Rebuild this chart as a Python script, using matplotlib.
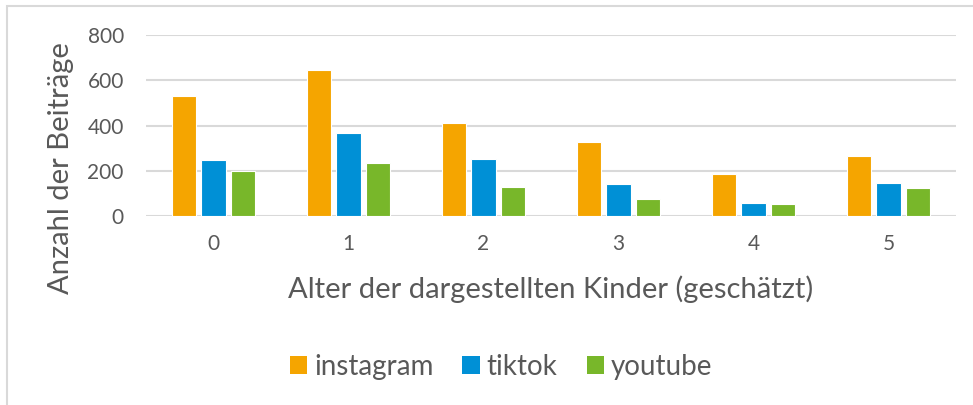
import numpy as np
import matplotlib.pyplot as plt
from matplotlib.patches import Patch, Rectangle

# --- Daten ---
ages = ["0", "1", "2", "3", "4", "5"]
instagram = [531, 645, 410, 326, 185, 267]
tiktok = [249, 365, 251, 140, 58, 148]
youtube = [201, 233, 130, 77, 53, 124]

series = ["instagram", "tiktok", "youtube"]
colors = ["#F5A500", "#0090D6", "#78B72A"]
grey = "#595959"

plt.rcParams['font.family'] = ['Lato', 'DejaVu Sans']

fig = plt.figure(figsize=(9.73, 4.05), dpi=100)
ax = fig.add_axes([146 / 973, 1 - 216 / 405, 810 / 973, 181 / 405])

x = np.arange(len(ages))
width = 0.178
step = 0.222
for i, (vals, col) in enumerate(zip([instagram, tiktok, youtube], colors)):
    ax.bar(x + (i - 1) * step, vals, width, color=col, edgecolor="white",
           linewidth=0.8, zorder=3)

ax.set_xlim(-0.5, len(ages) - 0.5)
ax.set_ylim(0, 800)
ax.set_yticks([0, 200, 400, 600, 800])
ax.set_xticks(x)
ax.set_xticklabels(ages)
ax.grid(axis="y", color="#d9d9d9", linewidth=1.5, zorder=0)
for s in ax.spines.values():
    s.set_visible(False)
ax.tick_params(length=0, labelsize=15, labelcolor=grey)
ax.tick_params(axis="y", pad=16)
ax.tick_params(axis="x", pad=13)

fig.text(551 / 973, 1 - 289 / 405, "Alter der dargestellten Kinder (geschätzt)",
         ha="center", va="center", fontsize=21, color=grey)
fig.text(61 / 973, 1 - 168 / 405, "Anzahl der Beiträge", rotation=90,
         ha="center", va="center", fontsize=21, color=grey)

handles = [Patch(facecolor=c, edgecolor="none") for c in colors]
fig.legend(handles, series, loc="center", ncol=3, frameon=False,
           bbox_to_anchor=(501 / 973, 1 - 367 / 405), fontsize=20,
           labelcolor=grey, handlelength=0.62, handleheight=0.62,
           handletextpad=0.25, columnspacing=1.05, borderpad=0)

# Rahmen um das Diagramm
fig.patches.append(Rectangle((7 / 973, -0.1), 1.2, 1 - 6 / 405 + 0.1,
                             transform=fig.transFigure, fill=False,
                             edgecolor="#d9d9d9", linewidth=1.5))

fig.savefig("out.png", dpi=100)
